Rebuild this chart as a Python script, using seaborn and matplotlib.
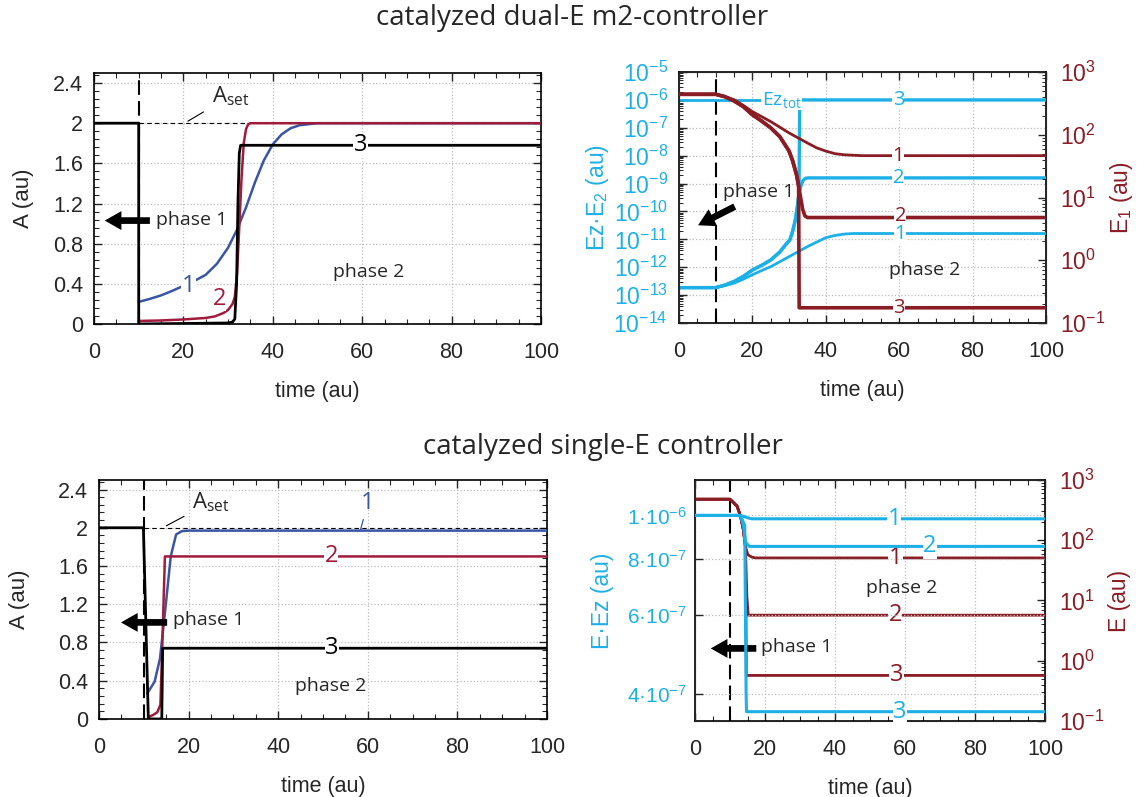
import numpy as np
import pandas as pd
import matplotlib
matplotlib.use("Agg")
import matplotlib.pyplot as plt
import seaborn as sns
from matplotlib.ticker import MultipleLocator, FixedLocator, FuncFormatter, LogLocator, NullFormatter

sns.set_style("ticks")
plt.rcParams['font.family'] = ['Liberation Sans', 'DejaVu Sans']
plt.rcParams['mathtext.fontset'] = 'custom'
plt.rcParams['mathtext.rm'] = 'Liberation Sans'
plt.rcParams['mathtext.it'] = 'Liberation Sans:italic'
plt.rcParams['mathtext.default'] = 'regular'

CYAN = '#1DB0E6'
DRED = '#8A1C24'
BLUE = '#3A55A4'
RED = '#A11B3D'
BLACK = '#000000'
GRID = '#bdbdbd'
ANN_FONT = ['Open Sans', 'DejaVu Sans']

# ---------------- data: dual-E m2-controller, A(t) ----------------
tA_dual_1 = [10, 12.5, 15, 17.5, 20, 22.5, 25, 27.5, 30, 32, 34, 36, 38, 40, 42, 44, 46, 48, 50, 100]
A_dual_1 = [0.22, 0.25, 0.285, 0.33, 0.38, 0.43, 0.49, 0.6, 0.76, 0.94, 1.16, 1.41, 1.63, 1.79, 1.89, 1.95, 1.98, 1.99, 2.0, 2.0]
tA_dual_2 = [10, 15, 20, 25, 27, 29, 30, 31, 31.5, 32, 32.5, 33, 33.5, 34, 34.5, 35, 100]
A_dual_2 = [0.03, 0.035, 0.045, 0.06, 0.075, 0.11, 0.14, 0.2, 0.27, 0.5, 0.97, 1.45, 1.8, 1.94, 1.99, 2.0, 2.0]
tA_dual_3 = [0, 10, 10, 20, 30, 31, 31.5, 31.9, 32.2, 32.5, 32.8, 100]
A_dual_3 = [2, 2, 0, 0.005, 0.01, 0.02, 0.05, 0.4, 1.2, 1.7, 1.78, 1.78]

# ---------------- data: dual-E m2-controller, Ez*E2 (left) ----------------
tEz_1 = [0, 10, 12.5, 15, 17.5, 20, 22.5, 25, 27.5, 30, 32.5, 35, 37.5, 40, 42.5, 45, 47.5, 100]
Ez_1 = [1.86e-13, 1.86e-13, 2.19e-13, 2.69e-13, 3.72e-13, 5.37e-13, 7.59e-13, 1.05e-12, 1.58e-12,
        2.4e-12, 3.63e-12, 5.5e-12, 7.94e-12, 1.15e-11, 1.38e-11, 1.55e-11, 1.62e-11, 1.62e-11]
tEz_2 = [0, 10, 12.5, 15, 17.5, 20, 22.5, 25, 27.5, 29, 30.2, 31, 31.7, 32.2, 32.7, 33.2, 33.8, 34.5, 35.2, 100]
Ez_2 = [1.86e-13, 1.86e-13, 2.29e-13, 3.09e-13, 4.68e-13, 7.94e-13, 1.17e-12, 1.82e-12, 3.55e-12, 6.3e-12,
        9.5e-12, 2.0e-11, 4.9e-11, 1.3e-10, 4.4e-10, 8e-10, 1.3e-9, 1.55e-9, 1.6e-9, 1.6e-9]
tEz_3 = [0, 10, 12.5, 15, 17.5, 20, 22.5, 25, 27.5, 29, 30.2, 31, 31.7, 32.2, 32.7, 32.9, 100]
Ez_3 = [1.86e-13, 1.86e-13, 2.29e-13, 3.09e-13, 4.68e-13, 7.94e-13, 1.17e-12, 1.82e-12, 3.55e-12, 6.3e-12,
        9.5e-12, 2.0e-11, 4.9e-11, 1.3e-10, 4.4e-10, 1e-6, 1e-6]
tEz_tot = [0, 33]
Ez_tot = [1e-6, 1e-6]

# ---------------- data: dual-E m2-controller, E1 (right) ----------------
tE1_1 = [0, 10, 12.5, 15, 17.5, 20, 22.5, 25, 27.5, 30, 32.5, 35, 37.5, 40, 42.5, 45, 50, 100]
E1_1 = [442, 442, 407, 363, 295, 234, 195, 162, 132, 107, 89, 74, 62, 55, 50, 48, 46.5, 46.5]
tE1_2 = [0, 10, 12.5, 15, 17.5, 20, 22.5, 25, 27.5, 30, 31, 32, 33, 33.7, 34.3, 35, 100]
E1_2 = [442, 442, 405, 347, 282, 209, 166, 129, 93, 55, 38, 23.4, 11.2, 6.5, 5.1, 4.8, 4.8]
tE1_3 = [0, 10, 12.5, 15, 17.5, 20, 22.5, 25, 27.5, 30, 31, 32, 32.6, 32.75, 100]
E1_3 = [442, 442, 405, 347, 282, 209, 166, 129, 93, 55, 38, 23.4, 16, 0.175, 0.175]

# ---------------- data: single-E controller, A(t) ----------------
tA_sing_1 = [10.8, 12.4, 13.6, 14.8, 16, 17.2, 18.5, 20, 100]
A_sing_1 = [0.27, 0.39, 0.63, 1.15, 1.7, 1.93, 1.965, 1.97, 1.97]
tA_sing_2 = [11, 12, 13, 13.7, 14.2, 14.7, 100]
A_sing_2 = [0.02, 0.04, 0.07, 0.15, 0.9, 1.7, 1.7]
tA_sing_3 = [0, 9.9, 11, 14, 14.2, 100]
A_sing_3 = [2, 2, 0, 0, 0.74, 0.74]

# ---------------- data: single-E controller, E*Ez (left) ----------------
tEEz_1 = [0, 12.5, 14, 15, 16.2, 100]
EEz_1 = [1e-6, 1e-6, 9.95e-7, 9.88e-7, 9.83e-7, 9.83e-7]
tEEz_2 = [0, 13, 13.8, 14.5, 15.5, 100]
EEz_2 = [1e-6, 1e-6, 9.5e-7, 8.7e-7, 8.53e-7, 8.53e-7]
tEEz_3 = [0, 13, 14.2, 14.6, 14.7, 100]
EEz_3 = [1e-6, 1e-6, 9.5e-7, 4e-7, 3.65e-7, 3.65e-7]

# ---------------- data: single-E controller, E (right) ----------------
tE_1 = [0, 10, 12, 13, 13.8, 14.4, 15.1, 16.2, 17.2, 100]
E_1 = [479, 479, 369, 251, 151, 79, 57.5, 52.5, 50.8, 50.8]
tE_2 = [0, 10, 12, 13, 13.8, 14.4, 14.8, 15.2, 100]
E_2 = [479, 479, 369, 251, 151, 79, 12, 5.7, 5.7]
tE_3 = [0, 10, 12, 13, 13.8, 14.4, 14.55, 14.65, 100]
E_3 = [479, 479, 369, 251, 151, 79, 10, 0.57, 0.57]

xticks = [0, 20, 40, 60, 80, 100]
A_ticks = [0, 0.4, 0.8, 1.2, 1.6, 2.0, 2.4]
Ez_ticks = [1e-14, 1e-13, 1e-12, 1e-11, 1e-10, 1e-9, 1e-8, 1e-7, 1e-6, 1e-5]
E_ticks = [0.1, 1, 10, 100, 1000]
EEz_ticks = [4e-7, 6e-7, 8e-7, 1e-6]
EEz_labels = ['4·10$^{-7}$', '6·10$^{-7}$', '8·10$^{-7}$', '1·10$^{-6}$']

TICK_FS = 15.5
LOG_FS = 16.5
LAB_FS = 15.5
TAG_FS = 17
PH_FS = 14


def line(ax, t, y, color, lw=1.8, z=3):
    sns.lineplot(x=t, y=y, ax=ax, color=color, lw=lw, estimator=None,
                 sort=False, legend=False, zorder=z)


def tag(ax, x, y, s, color, fs=TAG_FS, pad=0.3, transform=None):
    kw = {} if transform is None else {'transform': transform}
    ax.text(x, y, s, color=color, fontsize=fs, ha='center', va='center',
            family=ANN_FONT, zorder=6,
            bbox=dict(fc='white', ec='none', pad=pad), **kw)


def arrow(ax, start, end):
    ax.annotate('', xy=end, xytext=start, zorder=7,
                arrowprops=dict(arrowstyle='simple,head_length=0.75,head_width=0.85,tail_width=0.3',
                                fc='black', ec='none', mutation_scale=16,
                                shrinkA=0, shrinkB=0))


def pow_fmt(v, p):
    return '$10^{%d}$' % int(round(np.log10(v)))


def eez_fmt(v, p):
    i = int(np.argmin([abs(np.log10(v) - np.log10(k)) for k in EEz_ticks]))
    return EEz_labels[i]


def base_x(ax):
    ax.set_xlim(0, 100)
    ax.xaxis.set_major_locator(FixedLocator(xticks))
    ax.xaxis.set_minor_locator(MultipleLocator(5))
    ax.tick_params(axis='x', which='both', direction='in', top=True, bottom=True,
                   labelsize=TICK_FS, pad=13)
    ax.tick_params(axis='x', which='major', length=6, width=1)
    ax.tick_params(axis='x', which='minor', length=3.5, width=0.8)
    ax.set_xlabel('time (au)', fontsize=LAB_FS, labelpad=13)
    for s in ax.spines.values():
        s.set_linewidth(1.2)
        s.set_color('black')


def log_axis(ax, ticks, labcolor, side):
    ax.set_yscale('log')
    ax.yaxis.set_major_locator(FixedLocator(ticks))
    ax.yaxis.set_major_formatter(FuncFormatter(pow_fmt))
    ax.yaxis.set_minor_locator(LogLocator(base=10, subs=(2, 3, 4, 5, 6, 7, 8, 9), numticks=30))
    ax.yaxis.set_minor_formatter(NullFormatter())
    if side == 'left':
        ax.tick_params(axis='y', which='both', direction='in', left=True, right=False,
                       labelleft=True, labelright=False, labelsize=LOG_FS, labelcolor=labcolor, pad=8)
    else:
        ax.tick_params(axis='y', which='both', direction='in', left=False, right=True,
                       labelleft=False, labelright=True, labelsize=LOG_FS, labelcolor=labcolor, pad=10)
    ax.tick_params(axis='y', which='major', length=6, width=1)
    ax.tick_params(axis='y', which='minor', length=3, width=0.7)


def A_panel(ax):
    base_x(ax)
    ax.set_ylim(0, 2.5)
    ax.yaxis.set_major_locator(FixedLocator(A_ticks))
    ax.yaxis.set_minor_locator(MultipleLocator(0.08))
    ax.yaxis.set_major_formatter(FuncFormatter(lambda v, p: '%g' % round(v, 2)))
    ax.tick_params(axis='y', which='both', direction='in', left=True, right=True,
                   labelsize=TICK_FS, pad=8)
    ax.tick_params(axis='y', which='major', length=6, width=1)
    ax.tick_params(axis='y', which='minor', length=3.5, width=0.8)
    ax.grid(True, which='major', ls=':', color=GRID, lw=0.9)
    ax.set_ylabel('A (au)', fontsize=LAB_FS + 0.5)


fig = plt.figure(figsize=(11.45, 7.97), dpi=100)

# ======================= top-left =======================
ax = fig.add_axes([0.0821, 0.5935, 0.3904, 0.3149])
A_panel(ax)
ax.yaxis.set_label_coords(-0.135, 0.5)
ax.axhline(2.0, xmin=0.1, color='black', ls=(0, (4, 3)), lw=0.8, zorder=2)
ax.axvline(10, color='black', ls=(0, (7, 3)), lw=1.5, zorder=2)
line(ax, tA_dual_1, A_dual_1, BLUE)
line(ax, tA_dual_2, A_dual_2, RED)
line(ax, tA_dual_3, A_dual_3, BLACK, lw=2.0, z=4)
ax.annotate('A$_{set}$', xy=(21, 2.02), xytext=(30.5, 2.27), fontsize=16,
            ha='center', va='center', family=ANN_FONT,
            arrowprops=dict(arrowstyle='-', lw=0.8, color='black', shrinkA=4, shrinkB=0))
tag(ax, 21.1, 0.38, '1', BLUE)
tag(ax, 28, 0.25, '2', RED)
tag(ax, 59.6, 1.78, '3', BLACK)
ax.text(13.8, 1.04, 'phase 1', fontsize=PH_FS, va='center', ha='left', family=ANN_FONT)
ax.text(61.4, 0.52, 'phase 2', fontsize=PH_FS, va='center', ha='center', family=ANN_FONT)
arrow(ax, (12.5, 1.03), (2.4, 1.03))

# ======================= top-right =======================
axL = fig.add_axes([0.5930, 0.5947, 0.3205, 0.3149])
base_x(axL)
axL.set_ylim(1e-14, 1e-5)
axL.grid(True, which='major', ls=':', color=GRID, lw=0.9)
axL.axvline(10, color='black', ls=(0, (7, 3)), lw=1.5, zorder=2)
line(axL, tEz_tot, Ez_tot, CYAN, lw=2.0)
line(axL, tEz_1, Ez_1, CYAN, lw=2.0)
line(axL, tEz_2, Ez_2, CYAN, lw=2.4)
line(axL, tEz_3, Ez_3, CYAN, lw=2.4)

axR = axL.twinx()
line(axR, tE1_1, E1_1, DRED, lw=2.0)
line(axR, tE1_2, E1_2, DRED, lw=2.6)
line(axR, tE1_3, E1_3, DRED, lw=2.6)
axR.set_xlim(0, 100)
axR.set_ylim(0.1, 1000)
log_axis(axR, E_ticks, DRED, 'right')
axR.set_ylabel('E$_1$ (au)', fontsize=LAB_FS + 1, color=DRED)
axR.yaxis.set_label_position('right')
axR.yaxis.set_label_coords(1.17, 0.5)

log_axis(axL, Ez_ticks, CYAN, 'left')
axL.set_ylim(1e-14, 1e-5)
axL.set_ylabel('Ez·E$_2$ (au)', fontsize=LAB_FS + 1, color=CYAN)
axL.yaxis.set_label_coords(-0.185, 0.5)

axL.text(22.5, 1e-6, 'Ez$_{tot}$', color=CYAN, fontsize=14, ha='left', va='center',
         family=ANN_FONT, zorder=6, bbox=dict(fc='white', ec='none', pad=0.3))
TR_FS = 14.5
tag(axL, 59.8, 1e-6, '3', CYAN, TR_FS, 0.1)
tag(axL, 59.8, 1.6e-9, '2', CYAN, TR_FS, 0.1)
tag(axR, 59.8, 46.5, '1', DRED, TR_FS, 0.1)
tag(axR, 60.3, 5.0, '2', DRED, TR_FS, 0.1)
tag(axR, 60.0, 0.175, '3', DRED, TR_FS, 0.1)
# cyan "1" drawn on the top axes (in left-axis coordinates) so it stays fully visible
tag(axR, 60.2, 1.55e-11, '1', CYAN, TR_FS, 0.0, transform=axL.transData)
axL.text(12, 5e-10, 'phase 1', fontsize=PH_FS, va='center', ha='left', family=ANN_FONT)
axL.text(67, 8e-13, 'phase 2', fontsize=PH_FS, va='center', ha='center', family=ANN_FONT)
arrow(axL, (15.2, 1.5e-10), (5.2, 3.2e-11))

# ======================= bottom-left =======================
ax = fig.add_axes([0.0865, 0.0979, 0.3913, 0.2999])
A_panel(ax)
ax.yaxis.set_label_coords(-0.155, 0.5)
ax.axhline(2.0, xmin=0.1, color='black', ls=(0, (4, 3)), lw=0.8, zorder=2)
ax.axvline(10, color='black', ls=(0, (7, 3)), lw=1.5, zorder=2)
line(ax, tA_sing_1, A_sing_1, BLUE)
line(ax, tA_sing_2, A_sing_2, RED)
line(ax, tA_sing_3, A_sing_3, BLACK, lw=2.0, z=4)
ax.annotate('A$_{set}$', xy=(15, 2.02), xytext=(25, 2.27), fontsize=16,
            ha='center', va='center', family=ANN_FONT,
            arrowprops=dict(arrowstyle='-', lw=0.8, color='black', shrinkA=4, shrinkB=0))
ax.annotate('1', xy=(58.3, 1.97), xytext=(60, 2.26), fontsize=TAG_FS, color=BLUE,
            ha='center', va='center', family=ANN_FONT,
            arrowprops=dict(arrowstyle='-', lw=0.9, color=BLUE, shrinkA=1, shrinkB=0))
tag(ax, 51.8, 1.7, '2', RED)
tag(ax, 52, 0.74, '3', BLACK)
ax.text(16.4, 1.04, 'phase 1', fontsize=PH_FS, va='center', ha='left', family=ANN_FONT)
ax.text(51.8, 0.34, 'phase 2', fontsize=PH_FS, va='center', ha='center', family=ANN_FONT)
arrow(ax, (15.2, 1.01), (4.9, 1.01))

# ======================= bottom-right =======================
# red (E) on primary axes with its scale on the right; cyan on the twin (drawn on top)
bR = fig.add_axes([0.6070, 0.0954, 0.3057, 0.3024])
base_x(bR)
bR.axvline(10, color='black', ls=(0, (7, 3)), lw=1.5, zorder=2)
bR.grid(True, which='major', axis='x', ls=':', color=GRID, lw=0.9)
line(bR, tE_1, E_1, DRED, lw=2.0)
line(bR, tE_2, E_2, DRED, lw=2.0)
line(bR, tE_3, E_3, DRED, lw=2.0)

bL = bR.twinx()
line(bL, tEEz_1, EEz_1, CYAN, lw=2.2)
line(bL, tEEz_2, EEz_2, CYAN, lw=2.2)
line(bL, tEEz_3, EEz_3, CYAN, lw=2.2)
bL.set_xlim(0, 100)

# right scale (E) on bR
bR.set_ylim(0.1, 1000)
log_axis(bR, E_ticks, DRED, 'right')
bR.set_ylim(0.1, 1000)
bR.yaxis.set_label_position('right')
bR.set_ylabel('E (au)', fontsize=LAB_FS + 1, color=DRED)
bR.yaxis.set_label_coords(1.18, 0.5)

# left scale (E*Ez) on bL
bL.set_yscale('log')
bL.set_ylim(3.48e-7, 1.2e-6)
bL.yaxis.set_major_locator(FixedLocator(EEz_ticks))
bL.yaxis.set_major_formatter(FuncFormatter(eez_fmt))
bL.yaxis.set_minor_locator(FixedLocator([]))
bL.yaxis.set_minor_formatter(NullFormatter())
bL.tick_params(axis='y', which='both', direction='in', left=True, right=False,
               labelleft=True, labelright=False, labelsize=15, labelcolor=CYAN,
               pad=6, length=6, width=1)
bL.grid(True, which='major', axis='y', ls=':', color=GRID, lw=0.9)
bL.yaxis.set_label_position('left')
bL.set_ylabel('E·Ez (au)', fontsize=LAB_FS + 1, color=CYAN)
bL.yaxis.set_label_coords(-0.232, 0.5)

tag(bR, 57.2, 50.8, '1', DRED)
tag(bR, 57.2, 5.7, '2', DRED)
tag(bR, 57.6, 0.57, '3', DRED)
tag(bL, 56.9, 9.83e-7, '1', CYAN)
tag(bL, 67.1, 8.53e-7, '2', CYAN)
tag(bL, 58.5, 3.65e-7, '3', CYAN)
bR.text(59, 15.8, 'phase 2', fontsize=PH_FS, va='center', ha='center', family=ANN_FONT)
bR.text(18.8, 1.71, 'phase 1', fontsize=PH_FS, va='center', ha='left', family=ANN_FONT)
arrow(bR, (17.5, 1.6), (4.5, 1.6))

# ======================= titles =======================
fig.text(0.4996, 1 - 18 / 797, 'catalyzed dual-E m2-controller', ha='center', va='center',
         fontsize=20, family=ANN_FONT)
fig.text(0.527, 1 - 447 / 797, 'catalyzed single-E controller', ha='center', va='center',
         fontsize=20, family=ANN_FONT)

fig.savefig('out.png', dpi=100)
